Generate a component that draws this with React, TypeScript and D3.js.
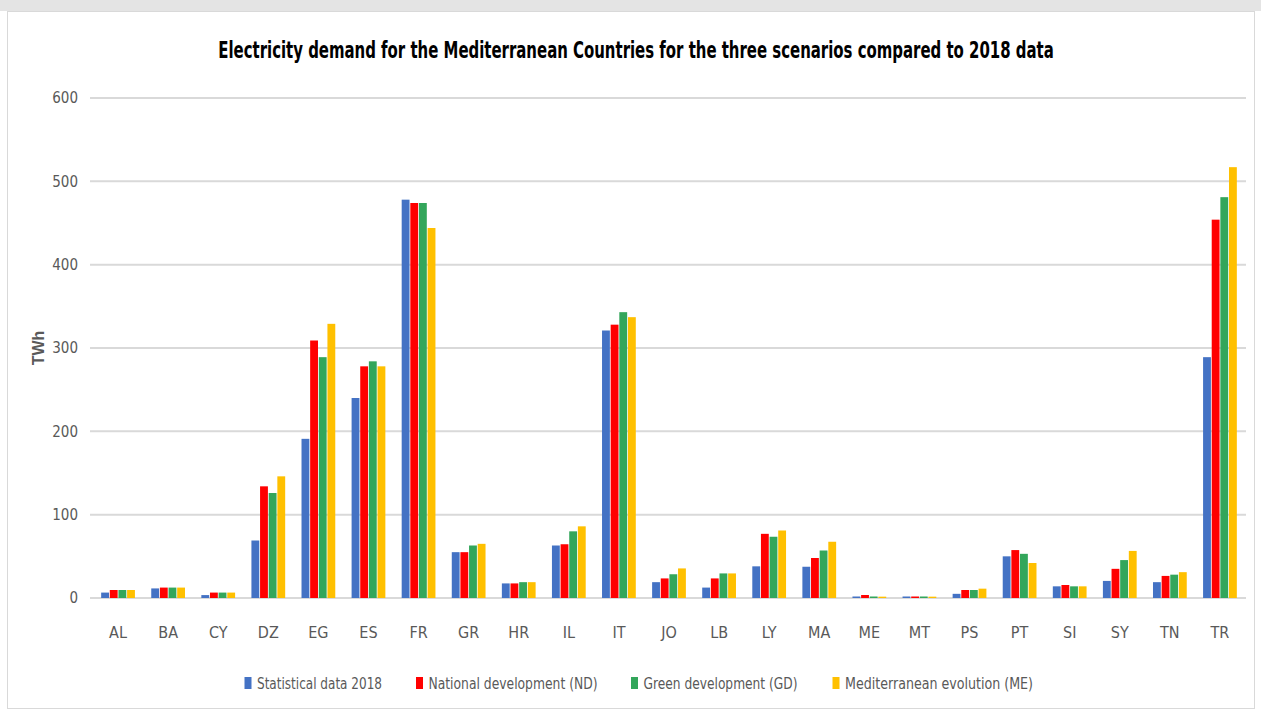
import React, { useLayoutEffect, useRef, useState } from "react";
import * as d3 from "d3";

// Countries (ISO codes) along the category axis
const countries = ["AL", "BA", "CY", "DZ", "EG", "ES", "FR", "GR", "HR", "IL", "IT", "JO", "LB", "LY", "MA", "ME", "MT", "PS", "PT", "SI", "SY", "TN", "TR"];

// Electricity demand, TWh
const statistical2018 = [6.5, 11.5, 3.5, 69, 191, 240, 478, 55, 17.5, 63, 321, 19, 12.5, 38, 37.5, 1.8, 1.8, 5, 50, 14, 20.5, 19, 289];
const nationalDevelopment = [9.6, 12.5, 6.5, 134, 309, 278, 474, 55, 17.5, 64.5, 328, 23.5, 23.5, 77, 48, 3.6, 1.8, 9.6, 57.5, 15.6, 35, 26.5, 454];
const greenDevelopment = [9.6, 12.5, 6.5, 126, 289, 284, 474, 63, 19, 80, 343, 28.5, 29.5, 73.5, 57, 1.8, 1.8, 9.6, 53, 14, 45.5, 28, 481];
const mediterraneanEvolution = [9.6, 12.5, 6.5, 146, 329, 278, 444, 65, 19, 86, 337, 35.5, 29.5, 81, 67.5, 1.6, 1.6, 11.2, 42, 14, 56.5, 31, 517];

const seriesNames = ["Statistical data 2018", "National development (ND)", "Green development (GD)", "Mediterranean evolution (ME)"];
const yTicks = [0, 100, 200, 300, 400, 500, 600];

const colors = ["#4472C4", "#FF0000", "#33A65B", "#FFC000"];
const FONT = "'Liberation Sans Narrow', 'DejaVu Sans Condensed', 'Roboto Condensed', 'Arial Narrow', 'Liberation Sans', sans-serif";
const TITLE = "Electricity demand for the Mediterranean Countries for the three scenarios compared to 2018 data";

export default function App() {
  const W = 1261;
  const H = 715;
  const series = [statistical2018, nationalDevelopment, greenDevelopment, mediterraneanEvolution];

  // title is squeezed horizontally to a fixed width
  const titleRef = useRef<SVGTextElement>(null);
  const [titleScale, setTitleScale] = useState(1);
  useLayoutEffect(() => {
    if (titleRef.current) {
      const w = titleRef.current.getComputedTextLength();
      if (w > 0) setTitleScale(836 / w);
    }
  }, []);

  const x0 = d3.scaleBand<string>().domain(countries).range([93, 1245]).paddingInner(0.31).paddingOuter(0.155);
  const x1 = d3.scaleBand<number>().domain(d3.range(series.length)).range([0, x0.bandwidth()]).padding(0);
  const y = d3.scaleLinear().domain([0, 600]).range([598, 98]);

  // legend layout: marker left edge and text width for each entry
  const legendX = [244.5, 416, 631, 832.5];
  const legendW = [125, 169, 154, 188];

  return (
    <svg width={W} height={H} style={{ position: "absolute", left: 0, top: 0, background: "#fff" }} fontFamily={FONT}>
      <rect x={0} y={0} width={W} height={11} fill="#e4e4e4" />
      <rect x={7.5} y={11.5} width={1247} height={697} fill="#fff" stroke="#d9d9d9" strokeWidth={1} />

      <g transform={`translate(636,58) scale(${titleScale},1)`}>
        <text ref={titleRef} x={0} y={0} textAnchor="middle" fontSize={23} fontWeight="bold" fill="#000">
          {TITLE}
        </text>
      </g>

      {/* gridlines and value ticks */}
      {yTicks.map((t) => (
        <g key={t}>
          <line x1={90} x2={1246} y1={y(t)} y2={y(t)} stroke="#d9d9d9" strokeWidth={2} />
          <text x={78} y={y(t)} dy="0.35em" textAnchor="end" fontSize={15} fill="#595959">
            {t}
          </text>
        </g>
      ))}

      <text transform={`translate(44,${348}) rotate(-90)`} textAnchor="middle" fontSize={16} fontWeight="bold" fill="#595959" fontFamily="'Liberation Sans', sans-serif">
        TWh
      </text>

      {/* grouped bars */}
      {countries.map((c, i) => (
        <g key={c} transform={`translate(${x0(c)},0)`}>
          {series.map((s, k) => (
            <rect
              key={k}
              x={x1(k) + 0.4}
              y={y(s[i])}
              width={x1.bandwidth() - 0.8}
              height={y(0) - y(s[i])}
              fill={colors[k]}
            />
          ))}
          <text x={x0.bandwidth() / 2} y={632} dy="0.35em" textAnchor="middle" fontSize={16} fill="#595959">
            {c}
          </text>
        </g>
      ))}

      {/* legend */}
      {seriesNames.map((n, k) => (
        <g key={n}>
          <rect x={legendX[k]} y={677} width={7} height={12} fill={colors[k]} />
          <text x={legendX[k] + 12.5} y={683} dy="0.35em" fontSize={16} fill="#595959" textLength={legendW[k]} lengthAdjust="spacingAndGlyphs">
            {n}
          </text>
        </g>
      ))}
    </svg>
  );
}
